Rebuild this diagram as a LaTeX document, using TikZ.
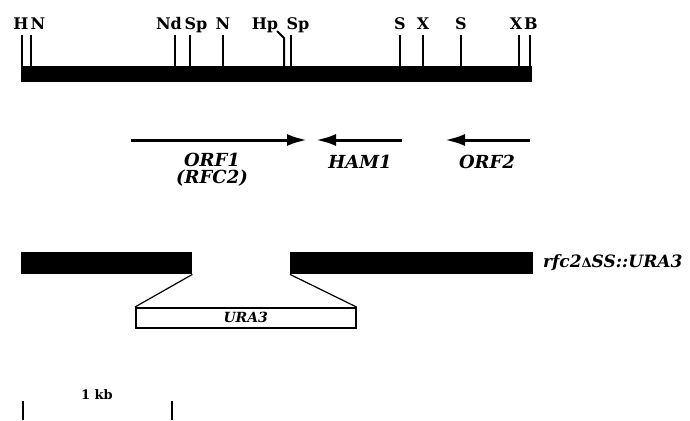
\documentclass[tikz,border=0pt]{standalone}
\usepackage{fontspec}
\setmainfont{DejaVu Serif}
\usetikzlibrary{arrows.meta}

\tikzset{
	site/.style={anchor=base,inner sep=0pt,font=\fontsize{16}{16}\selectfont\bfseries},
	gene/.style={inner sep=0pt,align=center,font=\fontsize{18}{17}\selectfont\bfseries\itshape},
	orf/.style={line width=3pt,-{Latex[length=20pt,width=12pt]}},
	tick/.style={line width=2pt},
	block/.style={fill=black,inner sep=0pt,minimum height=22pt,anchor=north west},
}

\begin{document}
\begin{tikzpicture}[x=1pt,y=-1pt]
	\useasboundingbox (0,0) rectangle (690,420);
	% restriction map
	\node[block,minimum width=511pt,minimum height=16pt] (map) at (21,66) {};
	\foreach \x/\lx/\t [count=\i] in {22/21/H,31/38/N,175/169/Nd,190/196/Sp,223/223/N,291/298/Sp,400/400/S,423/423/X,461/461/S,519/516/X,530/531/B}{
		\node[site] (site\i) at (\lx,30) {\t};
		\draw[tick] (\x,35) -- (\x,66);
	}
	\node[site] (hp) at (265,30) {Hp};
	\draw[tick] (277,31) -- (284,38) -- (284,66);
	% open reading frames
	\coordinate (orf1a) at (131,140); \coordinate (orf1b) at (307,140);
	\coordinate (ham1a) at (402,140); \coordinate (ham1b) at (316,140);
	\coordinate (orf2a) at (530,140); \coordinate (orf2b) at (445,140);
	\draw[orf] (orf1a) -- (orf1b);
	\draw[orf] (ham1a) -- (ham1b);
	\draw[orf] (orf2a) -- (orf2b);
	\node[gene] (orf1) at (212,170) {ORF1\\(RFC2)};
	\node[gene] (ham1) at (360,162) {HAM1};
	\node[gene] (orf2) at (487,162) {ORF2};
	% disruption
	\node[block,minimum width=171pt] (left) at (21,252) {};
	\node[block,minimum width=243pt] (right) at (290,252) {};
	\node[draw,line width=1.5pt,minimum width=220pt,minimum height=20pt,anchor=north west,inner sep=0pt,font=\fontsize{14}{14}\selectfont\bfseries\itshape] (ura) at (135,307) {URA3};
	\draw[line width=1.2pt] (left.south east) -- (ura.north west);
	\draw[line width=1.2pt] (right.south west) -- (ura.north east);
	\node[gene,anchor=west,font=\fontsize{17}{17}\selectfont\bfseries\itshape] (allele) at (543,263) {rfc2{\upshape\fontsize{13}{13}\selectfont Δ}SS::URA3};
	% scale
	\coordinate (kb0) at (23,401); \coordinate (kb1) at (172,401);
	\draw[tick] (kb0) -- ++(0,19);
	\draw[tick] (kb1) -- ++(0,19);
	\node[font=\fontsize{13}{13}\selectfont\bfseries] (kb) at (97,395) {1 kb};
\end{tikzpicture}
\end{document}
